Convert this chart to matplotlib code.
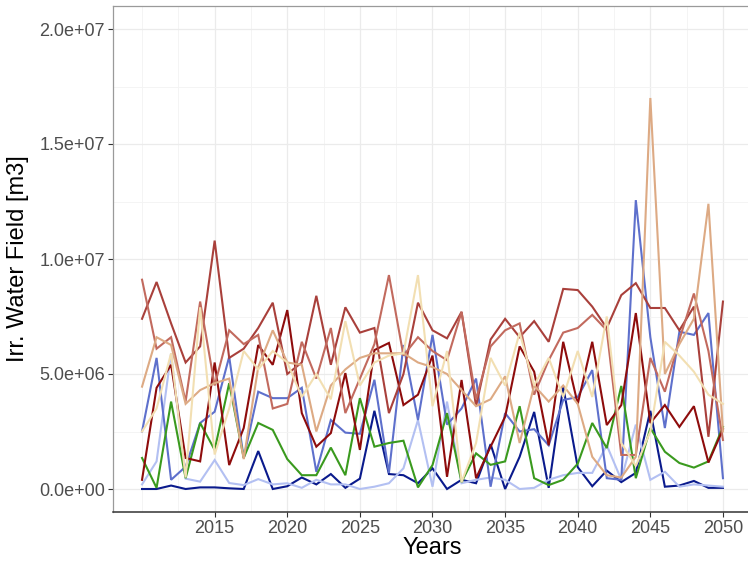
import matplotlib
matplotlib.use('Agg')
import matplotlib.pyplot as plt
import matplotlib.ticker as ticker
import numpy as np

plt.rcParams['font.family'] = ['Liberation Sans', 'DejaVu Sans']

years = np.arange(2010, 2051)

# irrigation water per scenario, in million m3
navy = [0, 0, 0.15, 0, 0.07, 0.07, 0.03, 0, 1.65, 0, 0.12, 0.5, 0.2, 0.65, 0.05, 0.45, 3.4, 0.65, 0.6, 0.25,
        0.9, 0, 0.4, 0.25, 1.95, 0, 1.4, 3.35, 0.05, 4.45, 0.95, 0.12, 0.8, 0.3, 0.7, 3.4, 0.1, 0.15, 0.35, 0.05, 0.05]
lavender = [0.2, 1.2, 5.9, 0.45, 0.32, 1.26, 0.26, 0.17, 0.43, 0.2, 0.25, 0.05, 0.4, 0.2, 0.2, 0, 0.1, 0.25, 0.9, 3.0,
            0.1, 3.8, 0.25, 0.4, 0.5, 0.4, 0, 0.05, 0.4, 0.6, 0.7, 0.7, 1.9, 0.4, 2.8, 0.4, 0.75, 0.1, 0.2, 0.15, 0.1]
slate = [2.5, 5.7, 0.4, 0.97, 2.87, 3.36, 5.75, 1.35, 4.23, 3.95, 3.95, 4.4, 0.75, 3.0, 2.45, 2.4, 4.75, 0.7, 6.26, 3.0,
         6.7, 2.8, 3.5, 4.8, 0.1, 3.3, 2.5, 2.6, 1.9, 3.87, 4.0, 5.17, 0.47, 0.4, 12.56, 6.6, 2.65, 6.84, 6.7, 7.65, 0.47]
green = [1.35, 0.05, 3.8, 0.47, 2.87, 1.7, 4.6, 1.35, 2.87, 2.57, 1.3, 0.6, 0.6, 1.8, 0.6, 3.95, 1.84, 2.0, 2.1, 0.07,
         1.04, 3.3, 0.3, 1.55, 1.05, 1.2, 3.6, 0.47, 0.17, 0.4, 1.1, 2.87, 1.78, 4.48, 0.47, 2.65, 1.62, 1.13, 0.93, 1.2, 2.7]
darkred = [0.4, 4.4, 5.4, 1.35, 1.2, 5.5, 1.04, 2.65, 6.26, 5.4, 7.78, 3.3, 1.84, 2.43, 5.04, 1.7, 6.04, 6.35, 3.65, 4.1,
           5.8, 0.53, 4.74, 0.47, 1.84, 3.14, 6.2, 5.1, 1.9, 6.4, 3.7, 6.4, 2.78, 3.65, 7.65, 2.87, 3.65, 2.7, 3.6, 1.15, 2.6]
brown = [7.4, 9.0, 7.2, 5.5, 6.2, 10.8, 5.7, 6.1, 7.0, 8.1, 5.0, 5.5, 8.4, 5.4, 7.9, 6.8, 7.0, 3.3, 5.0, 8.1,
         6.9, 6.55, 7.7, 3.6, 6.5, 7.4, 6.6, 7.3, 6.4, 8.7, 8.65, 7.93, 7.0, 8.43, 8.95, 7.87, 7.87, 6.9, 7.93, 2.27, 8.15]
indianred = [9.1, 6.1, 6.6, 3.8, 8.15, 4.5, 6.9, 6.3, 6.7, 3.5, 3.7, 6.4, 4.8, 7.0, 3.3, 4.8, 6.3, 9.3, 5.8, 6.6,
             6.0, 5.6, 7.7, 3.9, 6.2, 6.9, 7.2, 4.1, 5.6, 6.8, 7.0, 7.57, 6.9, 1.48, 1.48, 5.7, 4.23, 6.5, 8.5, 6.0, 2.13]
tan = [4.45, 6.6, 6.26, 3.7, 4.3, 4.6, 4.8, 1.3, 5.3, 6.9, 5.5, 5.4, 2.5, 4.5, 5.2, 5.7, 5.9, 5.9, 5.9, 5.5,
       5.3, 5.0, 4.3, 3.6, 3.9, 4.9, 2.0, 4.5, 3.8, 4.5, 3.7, 1.4, 0.6, 0.5, 1.4, 17.0, 5.0, 6.3, 7.4, 12.4, 2.5]
wheat = [2.5, 3.5, 5.9, 0.5, 7.9, 1.5, 3.5, 6.0, 5.2, 6.0, 5.5, 4.0, 5.0, 3.9, 7.3, 4.5, 5.5, 5.8, 5.9, 9.3,
         3.6, 6.0, 0.3, 2.0, 5.7, 4.5, 6.8, 4.5, 5.7, 4.0, 6.0, 4.0, 7.5, 2.0, 1.0, 2.5, 6.4, 5.8, 5.1, 4.1, 3.7]

series = [navy, lavender, slate, green, darkred, brown, indianred, tan, wheat]
colors = ['#0A1A8C', '#B3C0F2', '#5E70CC', '#3A9A1E', '#8E0C0C', '#A9403B', '#C26A5E', '#DDAA84', '#F2DFB2']

fig = plt.figure(figsize=(7.48, 5.61), dpi=100)
ax = fig.add_axes([113 / 748, 1 - 512 / 561, 639 / 748, 506 / 561])

for vals, c in zip(series, colors):
    ax.plot(years, np.array(vals) * 1e6, color=c, lw=1.5, solid_joinstyle='miter')

ax.set_xlim(2008, 2052)
ax.set_ylim(-1e6, 2.1e7)
ax.xaxis.set_major_locator(ticker.FixedLocator(np.arange(2015, 2051, 5)))
ax.xaxis.set_minor_locator(ticker.FixedLocator([2010, 2012.5, 2017.5, 2022.5, 2027.5, 2032.5, 2037.5, 2042.5, 2047.5]))
ax.yaxis.set_major_locator(ticker.MultipleLocator(5e6))
ax.yaxis.set_minor_locator(ticker.FixedLocator([2.5e6, 7.5e6, 12.5e6, 17.5e6]))
ax.yaxis.set_major_formatter(ticker.FuncFormatter(lambda v, p: '%.1e' % v))

ax.grid(which='major', color='#EBEBEB', lw=0.9)
ax.grid(which='minor', color='#F3F3F3', lw=0.6)
ax.set_axisbelow(True)

for side in ('top', 'left', 'right'):
    ax.spines[side].set_color('#9A9A9A')
    ax.spines[side].set_linewidth(0.9)
ax.spines['bottom'].set_color('#333333')
ax.spines['bottom'].set_linewidth(1.1)

ax.tick_params(which='major', length=3.5, width=0.8, color='#333333', labelsize=13, labelcolor='#4D4D4D', pad=2.5)
ax.tick_params(which='minor', length=0)

ax.set_xlabel('Years', fontsize=17, labelpad=0)
ax.set_ylabel('Irr. Water Field [m3]', fontsize=17, labelpad=7)

fig.savefig('out.png', dpi=100)
